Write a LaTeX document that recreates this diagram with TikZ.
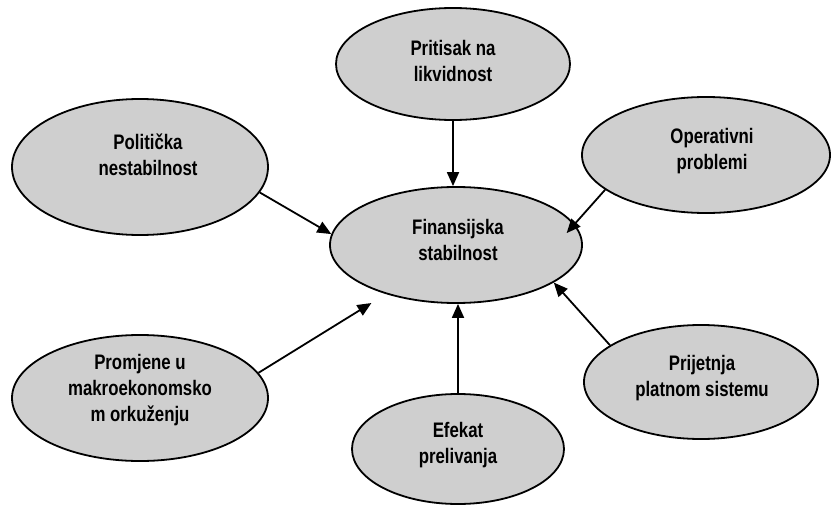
\documentclass[tikz,border=0pt]{standalone}
\usepackage{fontspec}
\usetikzlibrary{shapes.geometric,arrows.meta,calc}
\newfontfamily\lbl{Liberation Sans}[FakeStretch=0.8]
\definecolor{bubblefill}{RGB}{207,207,207}
\begin{document}
\begin{tikzpicture}[x=1pt,y=-1pt,
  bubble/.style={ellipse,draw=black,line width=1.8pt,fill=bubblefill,inner sep=0pt},
  caption/.style={align=center,font=\lbl\bfseries\fontsize{21}{26}\selectfont,inner sep=0pt},
  arr/.style={line width=1.8pt,-{Triangle[length=14pt,width=12pt]}}]
\useasboundingbox (0,0) rectangle (831,506);

% ellipses
\node[bubble,minimum width=234pt,minimum height=112pt] (lik) at (453,64) {};
\node[bubble,minimum width=256pt,minimum height=136pt] (pol) at (140,167) {};
\node[bubble,minimum width=248pt,minimum height=116pt] (ope) at (706,155) {};
\node[bubble,minimum width=252pt,minimum height=116pt] (fin) at (456,245) {};
\node[bubble,minimum width=256pt,minimum height=126pt] (mak) at (140,398) {};
\node[bubble,minimum width=212pt,minimum height=110pt] (efe) at (458,449) {};
\node[bubble,minimum width=234pt,minimum height=114pt] (pla) at (701,382) {};

% captions
\node[caption] (t-lik) at (453,61) {Pritisak na\\likvidnost};
\node[caption] (t-pol) at (148,155) {Politička\\nestabilnost};
\node[caption] (t-ope) at (712,151) {Operativni\\problemi};
\node[caption] (t-fin) at (458,240) {Finansijska\\stabilnost};
\node[caption] (t-mak) at (140,390) {Promjene u\\makroekonomsko\\m orkuženju};
\node[caption] (t-efe) at (458,445) {Efekat\\prelivanja};
\node[caption] (t-pla) at (702,378) {Prijetnja\\platnom sistemu};

% influences on financial stability
\draw[arr] (lik.south) -- (lik.south |- fin.north);
\draw[arr] (pol.-12) -- (fin.175);
\draw[arr,shorten >=-12pt] (ope.199) -- (fin.10);
\draw[arr,shorten >=17pt] (mak.12) -- (fin.215);
\draw[arr] (efe.north) -- (efe.north |- fin.south);
\draw[arr] (pla.158) -- (fin.-21);
\end{tikzpicture}
\end{document}
